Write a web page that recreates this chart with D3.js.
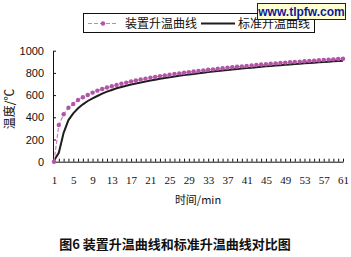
<!DOCTYPE html>
<html>
<head>
<meta charset="utf-8">
<script src="https://cdn.jsdelivr.net/npm/d3@7"></script>
<style>
  body { margin: 0; background: #fff; }
  svg { display: block; }
</style>
</head>
<body>
<svg id="chart" width="351" height="257"></svg>
<script>
// minutes 1..61 on the category axis
var minutes = d3.range(1, 62)

var deviceTemp = [0, 330, 427, 486, 520, 556, 580, 601, 622, 640,
  655, 668, 680, 692, 702, 712, 722, 731, 740, 748,
  756, 763, 771, 778, 784, 790, 796, 802, 807, 812,
  818, 823, 828, 832, 837, 842, 846, 851, 855, 859,
  863, 867, 871, 875, 878, 882, 886, 889, 893, 896,
  899, 902, 905, 908, 911, 914, 917, 920, 922, 925, 928]

// 标准升温曲线 (standard)
var standardTemp = [10, 80, 260, 375, 436, 481, 517, 547, 571, 592,
  613, 631, 646, 661, 673, 684, 695, 705, 714, 723,
  731, 739, 747, 754, 761, 768, 774, 780, 786, 791,
  797, 802, 807, 812, 817, 822, 826, 831, 835, 839,
  843, 847, 851, 855, 859, 862, 866, 869, 873, 876,
  880, 883, 886, 889, 892, 895, 898, 901, 904, 907, 910]

var yTicks = [0, 200, 400, 600, 800, 1000]

var svg = d3.select('#chart')
var purple = '#b354a6'

var x = d3.scaleLinear().domain([1, 61]).range([54, 343])
var y = d3.scaleLinear().domain([0, 1000]).range([161.7, 50.7])

// axes, ticks point inward like the excel original
var yAxis = d3.axisLeft(y)
  .tickValues(yTicks)
  .tickFormat(d3.format('d'))
  .tickSizeInner(-3)
  .tickSizeOuter(0)
  .tickPadding(9)

var xAxis = d3.axisBottom(x)
  .tickValues(minutes)
  .tickFormat(d => ((d - 1) % 4 === 0 ? d : ''))
  .tickSizeInner(-3)
  .tickSizeOuter(0)
  .tickPadding(15)

var gy = svg.append('g').attr('transform', 'translate(53,0)').call(yAxis)
gy.selectAll('text')
  .style('font-family', '"Liberation Sans", Arial, sans-serif')
  .style('font-size', '11px')
  .attr('fill', '#111')

var gx = svg.append('g').attr('transform', 'translate(0,161.7)').call(xAxis)
gx.selectAll('text')
  .style('font-family', '"Liberation Serif", serif')
  .style('font-size', '11px')
  .attr('fill', '#111')

svg.selectAll('.domain, .tick line').attr('stroke', '#111').attr('stroke-width', 1)

// lines
var line = d3.line()
  .x((d, i) => x(minutes[i]))
  .y(d => y(d))

svg.append('path')
  .datum(standardTemp)
  .attr('d', line)
  .attr('fill', 'none')
  .attr('stroke', '#1e1e1e')
  .attr('stroke-width', 2)

svg.append('path')
  .datum(deviceTemp)
  .attr('d', line)
  .attr('fill', 'none')
  .attr('stroke', '#d27ac6')
  .attr('stroke-width', 1.2)
  .attr('stroke-dasharray', '4,2')

svg.append('g')
  .selectAll('circle')
  .data(deviceTemp)
  .enter()
  .append('circle')
  .attr('cx', (d, i) => x(minutes[i]))
  .attr('cy', d => y(d))
  .attr('r', 2.2)
  .attr('fill', purple)

// axis titles
svg.append('text')
  .attr('transform', 'translate(14,109) rotate(-90)')
  .attr('text-anchor', 'middle')
  .style('font-family', '"Noto Sans CJK SC", sans-serif')
  .style('font-size', '12px')
  .attr('fill', '#111')
  .text('温度/℃')

svg.append('text')
  .attr('x', 198)
  .attr('y', 204)
  .attr('text-anchor', 'middle')
  .style('font-family', '"Noto Sans CJK SC", sans-serif')
  .style('font-size', '11px')
  .attr('fill', '#111')
  .text('时间/min')

// legend
var legend = svg.append('g')
legend.append('rect')
  .attr('x', 83.5).attr('y', 13.5)
  .attr('width', 231).attr('height', 19)
  .attr('fill', '#fff').attr('stroke', '#111')

legend.append('line')
  .attr('x1', 88).attr('x2', 118).attr('y1', 23.5).attr('y2', 23.5)
  .attr('stroke', '#d27ac6').attr('stroke-width', 1.2)
  .attr('stroke-dasharray', '4,2')
legend.append('circle')
  .attr('cx', 103).attr('cy', 23.5).attr('r', 2.2).attr('fill', purple)

legend.append('line')
  .attr('x1', 201).attr('x2', 235).attr('y1', 23.5).attr('y2', 23.5)
  .attr('stroke', '#1e1e1e').attr('stroke-width', 2)

legend.selectAll('text.lbl')
  .data([['装置升温曲线', 125], ['标准升温曲线', 238]])
  .enter()
  .append('text')
  .attr('x', d => d[1])
  .attr('y', 28)
  .style('font-family', '"Noto Sans CJK SC", sans-serif')
  .style('font-size', '12px')
  .attr('fill', '#111')
  .text(d => d[0])

// site watermark stamped over the top right
svg.append('rect')
  .attr('x', 257.5).attr('y', 3.5)
  .attr('width', 88).attr('height', 16)
  .attr('fill', '#ffffd2').attr('stroke', '#222')
svg.append('text')
  .attr('x', 301.5)
  .attr('y', 16)
  .attr('text-anchor', 'middle')
  .style('font-family', '"Liberation Sans", Arial, sans-serif')
  .style('font-size', '12px')
  .style('font-weight', 'bold')
  .attr('fill', '#0a1a9a')
  .text('www.tlpfw.com')

// caption
svg.append('text')
  .attr('x', 175)
  .attr('y', 249)
  .attr('text-anchor', 'middle')
  .style('font-family', '"Noto Sans CJK SC", sans-serif')
  .style('font-size', '13px')
  .style('font-weight', 'bold')
  .attr('fill', '#111')
  .text('图6 装置升温曲线和标准升温曲线对比图')
</script>
</body>
</html>
